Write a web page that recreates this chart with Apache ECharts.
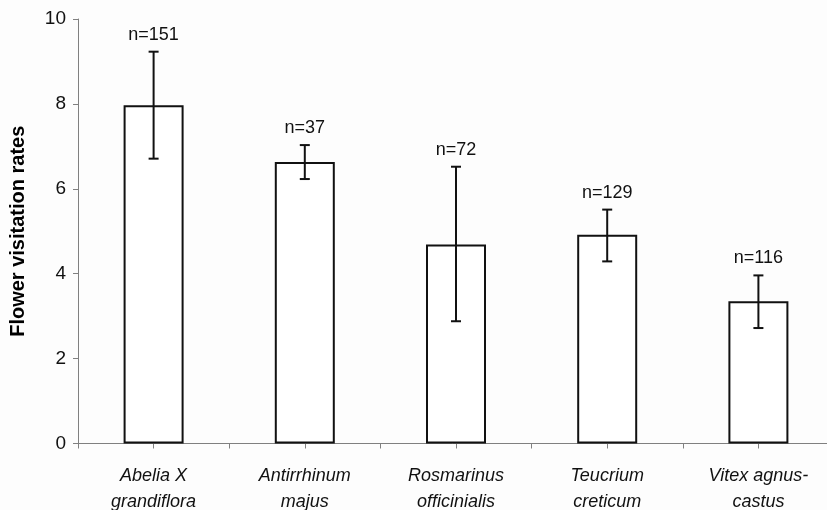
<!DOCTYPE html>
<html>
<head>
<meta charset="utf-8">
<script src="https://cdn.jsdelivr.net/npm/echarts@6/dist/echarts.min.js"></script>
<style>
html,body{margin:0;padding:0;background:#fdfdfd;}
#chart{width:827px;height:510px;}
</style>
</head>
<body>
<div id="chart"></div>
<script>
const categories = ['Abelia X\ngrandiflora', 'Antirrhinum\nmajus', 'Rosmarinus\nofficinialis', 'Teucrium\ncreticum', 'Vitex agnus-\ncastus'];
const means = [7.97, 6.63, 4.69, 4.92, 3.35];
const errLow = [6.71, 6.23, 2.88, 4.29, 2.72];
const errHigh = [9.23, 7.03, 6.52, 5.51, 3.96];
const sampleLabels = ['n=151', 'n=37', 'n=72', 'n=129', 'n=116'];
const yMin = 0, yMax = 10, yStep = 2;
const yTitle = 'Flower visitation rates';

const FONT = '"Liberation Sans", Arial, sans-serif';
const chart = echarts.init(document.getElementById('chart'), null, {renderer: 'canvas'});

const halfTickCats = [];
categories.forEach((c, i) => { halfTickCats.push('a' + i); halfTickCats.push('b' + i); });

const errData = categories.map((c, i) => [i, errLow[i], errHigh[i], sampleLabels[i]]);

chart.setOption({
  backgroundColor: '#fdfdfd',
  animation: false,
  grid: {left: 78, top: 19, width: 756, height: 424.5, containLabel: false, outerBoundsMode: 'none'},
  xAxis: [{
    type: 'category',
    data: categories,
    axisLine: {show: true, lineStyle: {color: '#808080', width: 1}},
    axisTick: {show: false},
    axisLabel: {
      interval: 0, margin: 19, color: '#111', fontFamily: FONT,
      fontStyle: 'italic', fontSize: 18, lineHeight: 26
    }
  }, {
    type: 'category',
    data: halfTickCats,
    position: 'bottom',
    axisLine: {show: false},
    axisTick: {show: true, interval: 0, length: 5, lineStyle: {color: '#808080', width: 1}},
    axisLabel: {show: false, interval: 0}
  }],
  yAxis: {
    type: 'value', min: yMin, max: yMax, interval: yStep,
    name: yTitle, nameLocation: 'middle', nameGap: 50, nameRotate: 90,
    nameTextStyle: {fontFamily: FONT, fontWeight: 'bold', fontSize: 20, color: '#000'},
    splitLine: {show: false},
    axisLine: {show: true, lineStyle: {color: '#808080', width: 1}},
    axisTick: {show: true, length: 5, lineStyle: {color: '#808080', width: 1}},
    axisLabel: {margin: 12, color: '#111', fontFamily: FONT, fontSize: 19}
  },
  series: [{
    type: 'bar',
    data: means,
    xAxisIndex: 0,
    barWidth: 60,
    itemStyle: {color: '#fff', borderColor: '#111', borderWidth: 2},
    z: 2
  }, {
    type: 'custom',
    xAxisIndex: 0,
    data: errData,
    z: 5,
    renderItem: function (params, api) {
      const idx = api.value(0);
      const top = api.coord([idx, api.value(2)]);
      const bot = api.coord([idx, api.value(1)]);
      const x = top[0];
      const cap = 5;
      const st = {stroke: '#111', lineWidth: 2};
      return {
        type: 'group',
        children: [
          {type: 'line', shape: {x1: x, y1: top[1], x2: x, y2: bot[1]}, style: st},
          {type: 'line', shape: {x1: x - cap, y1: top[1], x2: x + cap, y2: top[1]}, style: st},
          {type: 'line', shape: {x1: x - cap, y1: bot[1], x2: x + cap, y2: bot[1]}, style: st},
          {type: 'text', style: {
            text: sampleLabels[params.dataIndex], x: x, y: top[1] - 17,
            align: 'center', verticalAlign: 'middle',
            fontFamily: FONT, fontSize: 18, fill: '#111'
          }}
        ]
      };
    }
  }]
});
</script>
</body>
</html>
